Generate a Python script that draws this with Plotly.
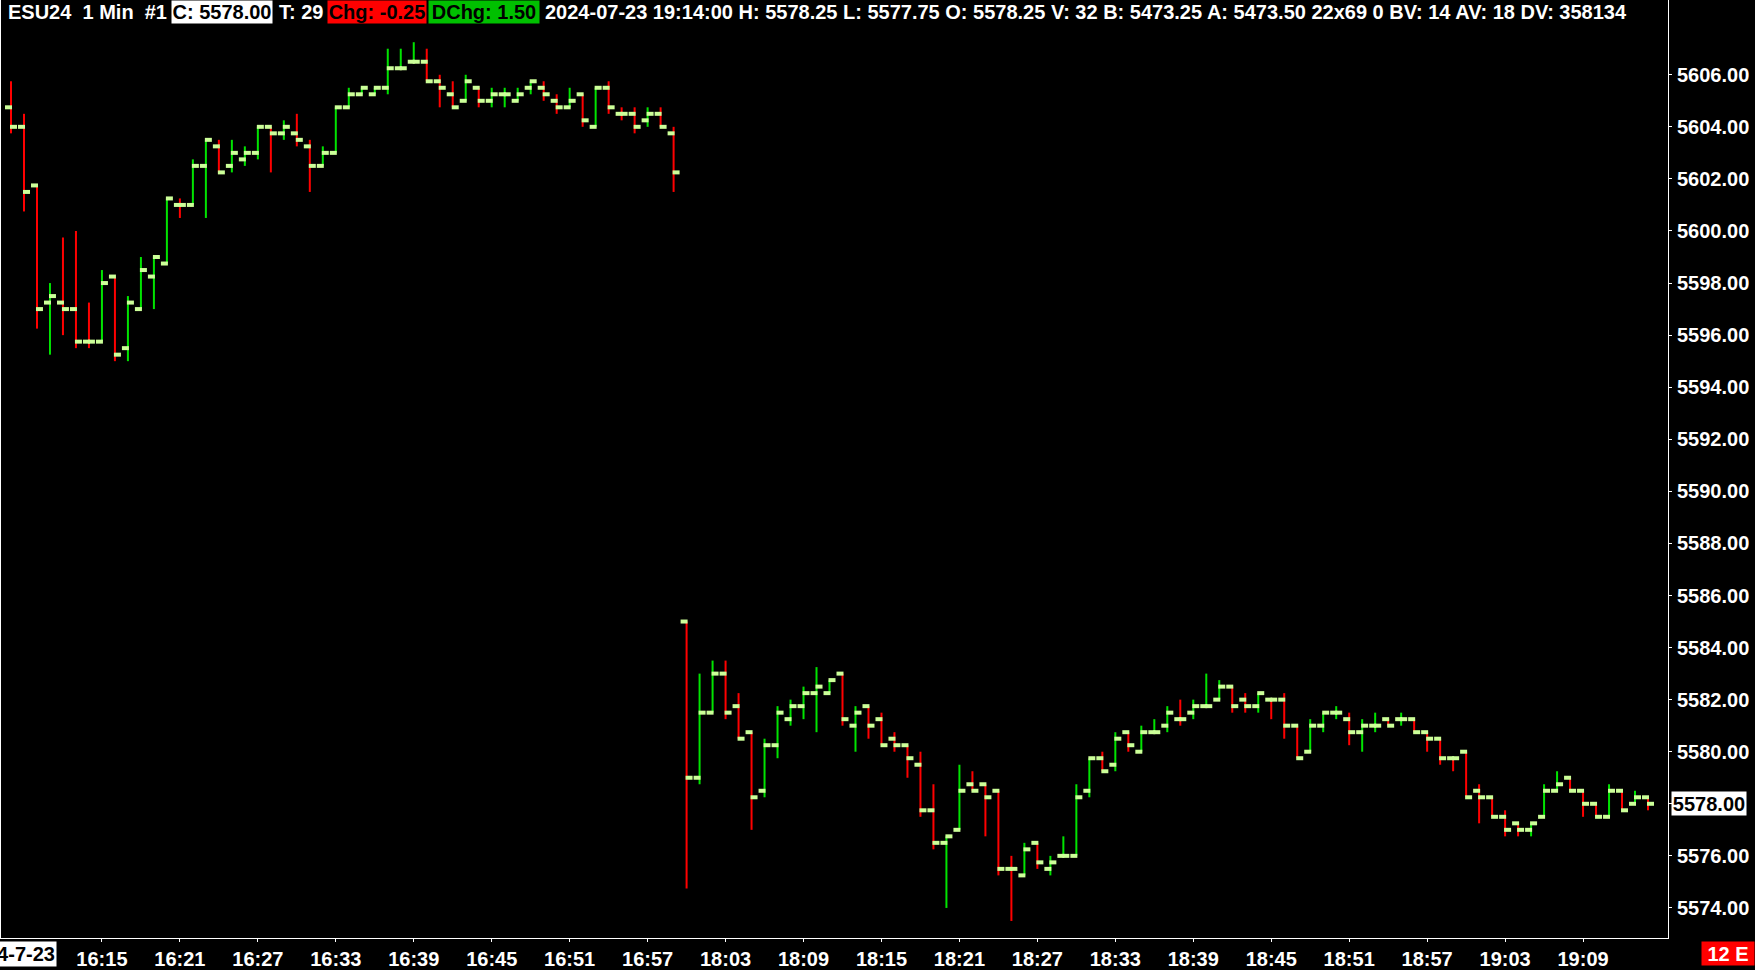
import plotly.graph_objects as go

# ---------------- data (ESU24, 1 min bars) ----------------
opens = [
    5604.75, 5604.00, 5601.75, 5597.25, 5597.25, 5597.00, 5595.75, 5595.75, 5598.25, 5595.50,
    5597.00, 5598.25, 5598.75, 5601.00, 5601.00, 5602.50, 5603.25, 5602.50, 5602.75, 5603.00,
    5604.00, 5603.75, 5603.75, 5603.25, 5602.50, 5603.00, 5604.75, 5605.25, 5605.25, 5605.50,
    5606.25, 5606.50, 5606.50, 5605.75, 5605.25, 5605.00, 5605.50, 5605.00, 5605.25, 5605.00,
    5605.50, 5605.50, 5605.00, 5604.75, 5605.25, 5604.00, 5605.50, 5604.50, 5604.50, 5604.25,
    5604.50, 5603.75,
    5585.00, 5579.00, 5581.50, 5583.00, 5581.75, 5580.75, 5578.50, 5580.25, 5581.25, 5581.75,
    5582.25, 5582.25, 5583.00, 5581.00, 5581.75, 5581.25, 5580.50, 5580.25, 5579.50, 5577.75,
    5576.50, 5577.00, 5578.75, 5578.75, 5578.50, 5575.50, 5575.25, 5576.50, 5575.50, 5576.00,
    5576.00, 5578.50, 5579.75, 5579.50, 5580.75, 5580.00, 5580.75, 5581.00, 5581.25, 5581.50,
    5581.75, 5582.00, 5582.50, 5582.00, 5581.75, 5582.00, 5582.00, 5581.00, 5580.00, 5581.00,
    5581.50, 5581.25, 5580.75, 5581.00, 5581.25, 5581.25, 5581.25, 5580.75, 5580.50, 5579.75,
    5580.00, 5578.50, 5578.25, 5577.50, 5577.25, 5577.00, 5577.50, 5578.50, 5579.00, 5578.50,
    5578.00, 5577.50, 5578.50, 5578.00, 5578.25,
]
highs = [
    5605.75, 5604.50, 5601.75, 5598.00, 5599.75, 5600.00, 5597.25, 5598.50, 5598.25, 5597.50,
    5599.00, 5599.00, 5601.25, 5601.25, 5602.75, 5603.50, 5603.50, 5603.50, 5603.25, 5604.00,
    5604.00, 5604.25, 5604.50, 5603.50, 5603.25, 5604.75, 5605.50, 5605.50, 5605.50, 5607.00,
    5607.00, 5607.25, 5607.00, 5606.00, 5605.75, 5606.00, 5605.50, 5605.50, 5605.50, 5605.50,
    5605.75, 5605.75, 5605.25, 5605.50, 5605.25, 5605.50, 5605.75, 5604.75, 5604.75, 5604.75,
    5604.75, 5604.00,
    5585.00, 5583.00, 5583.50, 5583.50, 5582.25, 5580.75, 5580.50, 5581.75, 5582.00, 5582.50,
    5583.25, 5582.75, 5583.00, 5581.75, 5581.75, 5581.50, 5580.75, 5580.25, 5580.00, 5578.75,
    5576.75, 5579.50, 5579.25, 5578.75, 5578.50, 5576.00, 5576.50, 5576.50, 5576.00, 5576.75,
    5578.75, 5579.75, 5580.00, 5580.75, 5580.75, 5581.00, 5581.25, 5581.75, 5582.00, 5582.00,
    5583.00, 5582.75, 5582.50, 5582.25, 5582.25, 5582.00, 5582.25, 5581.00, 5581.25, 5581.50,
    5581.75, 5581.50, 5581.25, 5581.50, 5581.25, 5581.50, 5581.25, 5580.75, 5580.50, 5579.75,
    5580.00, 5578.75, 5578.25, 5577.75, 5577.25, 5577.25, 5578.75, 5579.25, 5579.00, 5578.50,
    5578.00, 5578.75, 5578.50, 5578.50, 5578.25,
]
lows = [
    5603.75, 5600.75, 5596.25, 5595.25, 5596.00, 5595.50, 5595.50, 5595.75, 5595.00, 5595.00,
    5597.00, 5597.00, 5598.75, 5600.50, 5601.00, 5600.50, 5602.25, 5602.25, 5602.50, 5602.75,
    5602.25, 5603.50, 5603.25, 5601.50, 5602.50, 5603.00, 5604.75, 5605.25, 5605.25, 5605.25,
    5606.25, 5606.50, 5605.75, 5604.75, 5604.75, 5605.00, 5604.75, 5604.75, 5604.75, 5605.00,
    5605.25, 5605.00, 5604.50, 5604.75, 5604.00, 5604.00, 5604.50, 5604.25, 5603.75, 5604.00,
    5604.00, 5601.50,
    5574.75, 5578.75, 5581.50, 5581.25, 5580.50, 5577.00, 5578.25, 5579.75, 5581.00, 5581.25,
    5580.75, 5582.25, 5581.00, 5580.00, 5580.50, 5580.25, 5580.00, 5579.00, 5577.50, 5576.25,
    5574.00, 5577.00, 5578.50, 5576.75, 5575.25, 5573.50, 5575.25, 5575.50, 5575.25, 5576.00,
    5576.00, 5578.25, 5579.25, 5579.25, 5580.00, 5580.00, 5580.75, 5580.75, 5581.00, 5581.25,
    5581.75, 5582.00, 5581.50, 5581.50, 5581.50, 5581.25, 5580.50, 5579.75, 5580.00, 5580.75,
    5581.25, 5580.25, 5580.00, 5580.75, 5581.00, 5581.00, 5580.75, 5580.00, 5579.50, 5579.25,
    5578.25, 5577.25, 5577.50, 5576.75, 5576.75, 5576.75, 5577.50, 5578.50, 5578.50, 5577.50,
    5577.50, 5577.50, 5577.75, 5578.00, 5577.75,
]
closes = [
    5604.00, 5601.50, 5597.00, 5597.50, 5597.00, 5595.75, 5595.75, 5598.00, 5595.25, 5597.25,
    5598.50, 5599.00, 5601.25, 5601.00, 5602.50, 5603.50, 5602.25, 5603.00, 5603.00, 5604.00,
    5603.75, 5604.00, 5603.50, 5602.50, 5603.00, 5604.75, 5605.25, 5605.50, 5605.50, 5606.25,
    5606.25, 5606.50, 5605.75, 5605.50, 5604.75, 5605.75, 5605.00, 5605.25, 5605.25, 5605.25,
    5605.75, 5605.25, 5604.75, 5605.00, 5604.25, 5605.50, 5604.75, 5604.50, 5604.00, 5604.50,
    5604.00, 5602.25,
    5579.00, 5581.50, 5583.00, 5581.50, 5580.50, 5578.25, 5580.25, 5581.50, 5581.75, 5582.25,
    5582.50, 5582.75, 5581.25, 5581.50, 5581.00, 5580.25, 5580.25, 5579.75, 5577.75, 5576.50,
    5576.75, 5578.50, 5578.50, 5578.25, 5575.50, 5575.50, 5576.25, 5575.75, 5575.75, 5576.00,
    5578.25, 5579.75, 5579.25, 5580.50, 5580.25, 5580.75, 5580.75, 5581.50, 5581.25, 5581.75,
    5581.75, 5582.50, 5581.75, 5581.75, 5582.25, 5582.00, 5581.00, 5579.75, 5581.00, 5581.50,
    5581.50, 5580.75, 5581.00, 5581.00, 5581.00, 5581.25, 5580.75, 5580.50, 5579.75, 5579.75,
    5578.25, 5578.25, 5577.50, 5577.00, 5577.00, 5577.25, 5578.50, 5578.75, 5578.50, 5578.00,
    5577.50, 5578.50, 5577.75, 5578.25, 5578.00,
]

# bar times (two sessions, gap skipped)
times = [f"16:{m:02d}" for m in range(8, 60)] + \
        [f"{h}:{m:02d}" for h in (18, 19) for m in range(60)][:75]

tick_labels = ["16:15", "16:21", "16:27", "16:33", "16:39", "16:45", "16:51", "16:57",
               "18:03", "18:09", "18:15", "18:21", "18:27", "18:33", "18:39", "18:45",
               "18:51", "18:57", "19:03", "19:09"]
price_ticks = [5574, 5576, 5578, 5580, 5582, 5584, 5586, 5588, 5590, 5592, 5594,
               5596, 5598, 5600, 5602, 5604, 5606]

header_symbol = "ESU24\u00a0\u00a01 Min\u00a0\u00a0#1"
header_close = "C: 5578.00"
header_trades = "T: 29"
header_chg = "Chg: -0.25"
header_dchg = "DChg: 1.50"
header_rest = ("2024-07-23 19:14:00 H: 5578.25 L: 5577.75 O: 5578.25 V: 32 "
               "B: 5473.25 A: 5473.50 22x69 0 BV: 14 AV: 18 DV: 358134")
date_label = "24-7-23"
last_price_label = "5578.00"
last_price = 5578.00
time_to_close = "12 E"

# ---------------- styling ----------------
W, H = 1755, 970
ML, MR, MT, MB = 0, 87, 0, 29
PW, PH = W - ML - MR, H - MT - MB
BAR_PX = 13.0
FIRST_PX = 10.0
UP_COLOR = "#00e400"
DOWN_COLOR = "#ff0000"
TICK_COLOR = "#ccff99"
FONT = "Liberation Sans, Arial, sans-serif"
FS = 20

x_idx = list(range(len(times)))

# up/down colouring (ties resolved vs previous close / previous colour)
up = []
prev_up = True
for i, (o, c) in enumerate(zip(opens, closes)):
    if c > o:
        u = True
    elif c < o:
        u = False
    else:
        pc = closes[i - 1] if i > 0 else c
        u = True if c > pc else (False if c < pc else prev_up)
    up.append(u)
    prev_up = u


def segments(idx, y0, y1, dx0, dx1):
    xs, ys = [], []
    for i, a, b in zip(idx, y0, y1):
        xs += [i + dx0, i + dx1, None]
        ys += [a, b, None]
    return xs, ys


fig = go.Figure()

for flag, col in ((True, UP_COLOR), (False, DOWN_COLOR)):
    sel = [i for i in x_idx if up[i] == flag]
    xs, ys = segments(sel, [lows[i] for i in sel], [highs[i] for i in sel], 0, 0)
    fig.add_trace(go.Scatter(x=xs, y=ys, mode="lines",
                             line=dict(color=col, width=2), hoverinfo="skip"))

off_l, off_s = 6 / BAR_PX, 1 / BAR_PX
xs, ys = segments(x_idx, opens, opens, -off_l, off_s)
fig.add_trace(go.Scatter(x=xs, y=ys, mode="lines",
                         line=dict(color=TICK_COLOR, width=4), hoverinfo="skip"))
xs, ys = segments(x_idx, closes, closes, -off_s, off_l)
fig.add_trace(go.Scatter(x=xs, y=ys, mode="lines",
                         line=dict(color=TICK_COLOR, width=4), hoverinfo="skip"))

# axis ranges so that one bar = 13 px
x0 = -FIRST_PX / BAR_PX
x1 = x0 + PW / BAR_PX
PX_PER_PT = 26.12
y_top = 5606 + 75 / PX_PER_PT
y_bot = y_top - PH / PX_PER_PT

tickvals = [times.index(t) for t in tick_labels]
# the last-price marker sits over its own grid label
price_text = ["" if p == last_price else f"{p:.2f}" for p in price_ticks]

font_w = dict(family=FONT, size=FS, color="white", weight="bold")
font_b = dict(family=FONT, size=FS, color="black", weight="bold")


def px(xp):
    return (xp - ML) / PW


def py(yp):
    return 1 - (yp - MT) / PH


annotations = []
hy = py(12)
annotations.append(dict(text=header_symbol, x=px(5), y=hy, xref="paper", yref="paper",
                        xanchor="left", yanchor="middle", showarrow=False, font=font_w))
annotations.append(dict(text=header_close, x=px(170), y=hy, xref="paper", yref="paper",
                        xanchor="left", yanchor="middle", showarrow=False, font=font_b,
                        bgcolor="white", width=100, height=22, borderpad=0))
annotations.append(dict(text=header_trades, x=px(276), y=hy, xref="paper", yref="paper",
                        xanchor="left", yanchor="middle", showarrow=False, font=font_w))
annotations.append(dict(text=header_chg, x=px(326), y=hy, xref="paper", yref="paper",
                        xanchor="left", yanchor="middle", showarrow=False, font=font_b,
                        bgcolor="#ff0000", width=98, height=22, borderpad=0))
annotations.append(dict(text=header_dchg, x=px(427), y=hy, xref="paper", yref="paper",
                        xanchor="left", yanchor="middle", showarrow=False, font=font_b,
                        bgcolor="#00c000", width=110, height=22, borderpad=0))
annotations.append(dict(text=header_rest, x=px(542), y=hy, xref="paper", yref="paper",
                        xanchor="left", yanchor="middle", showarrow=False, font=font_w))
# date label bottom left
annotations.append(dict(text=date_label, x=px(56), y=py(957), xref="paper", yref="paper",
                        xanchor="right", yanchor="middle", showarrow=False, font=font_b,
                        bgcolor="white", height=22, borderpad=1))
# time-to-close box bottom right
annotations.append(dict(text=time_to_close, x=px(1701), y=py(957), xref="paper", yref="paper",
                        xanchor="left", yanchor="middle", showarrow=False, font=font_w,
                        bgcolor="#ff0000", width=52, height=23, borderpad=0))
# last price marker
annotations.append(dict(text=last_price_label, x=px(1671), y=last_price, xref="paper", yref="y",
                        xanchor="left", yanchor="middle", showarrow=False, font=font_b,
                        bgcolor="white", width=74, height=23, borderpad=0))

fig.update_layout(
    width=W, height=H,
    margin=dict(l=ML, r=MR, t=MT, b=MB, pad=0),
    paper_bgcolor="black", plot_bgcolor="black",
    showlegend=False, hovermode=False,
    annotations=annotations,
    xaxis=dict(range=[x0, x1], showgrid=False, zeroline=False,
               showline=True, linecolor="white", linewidth=1,
               ticks="outside", ticklen=3, tickcolor="white", tickwidth=1,
               tickvals=tickvals, ticktext=tick_labels, tickfont=font_w,
               fixedrange=True),
    yaxis=dict(range=[y_bot, y_top], side="right", showgrid=False, zeroline=False,
               showline=True, linecolor="white", linewidth=1, mirror=True,
               ticks="outside", ticklen=3, tickcolor="white", tickwidth=1,
               tickvals=price_ticks, ticktext=price_text, tickfont=font_w,
               ticklabelstandoff=1, fixedrange=True),
)

fig.write_html("out.html", config={"displayModeBar": False},
               post_script="document.body.style.margin='0';document.body.style.overflow='hidden';")
